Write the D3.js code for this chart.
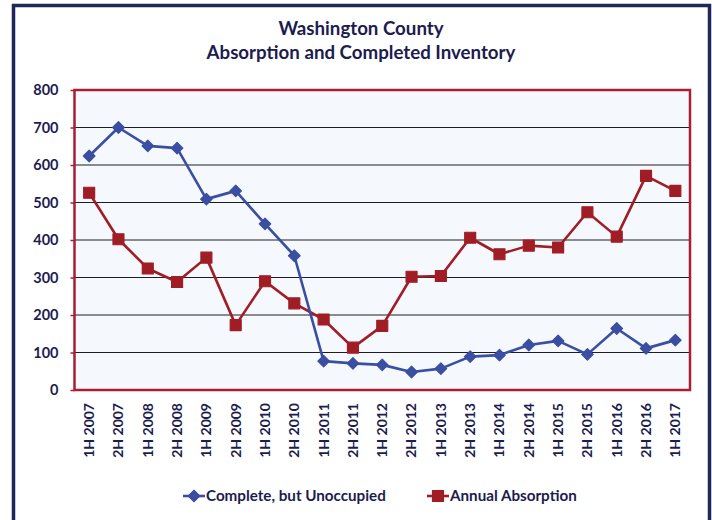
<!DOCTYPE html>
<html>
<head>
<meta charset="utf-8">
<script src="https://cdn.jsdelivr.net/npm/d3@7"></script>
<style>
  html, body { margin: 0; padding: 0; background: #ffffff; }
  svg { display: block; }
  text { font-family: Lato, "Open Sans", sans-serif; font-weight: 700; fill: #1c1c4f; }
</style>
</head>
<body>
<svg id="chart" width="712" height="520"></svg>
<script>
// Half-year periods on the x axis
const periods = [
  "1H 2007", "2H 2007", "1H 2008", "2H 2008", "1H 2009", "2H 2009", "1H 2010",
  "2H 2010", "1H 2011", "2H 2011", "1H 2012", "2H 2012", "1H 2013", "2H 2013",
  "1H 2014", "2H 2014", "1H 2015", "2H 2015", "1H 2016", "2H 2016", "1H 2017"
];

// Completed homes that are still unoccupied
const unoccupied = [624, 700, 651, 645, 509, 531, 443, 358, 77, 71, 67, 48, 57, 89, 93, 120, 131, 95, 164, 111, 133];

// Annual absorption
const absorption = [526, 402, 324, 288, 353, 173, 290, 231, 188, 113, 171, 302, 304, 406, 362, 385, 380, 474, 409, 571, 531];

const yTicks = [0, 100, 200, 300, 400, 500, 600, 700, 800];

const titleLines = ["Washington County", "Absorption and Completed Inventory"];
const seriesNames = ["Complete, but Unoccupied", "Annual Absorption"];

const blue = "#3a4ea2";
const red = "#a11d26";
const frameColor = "#1f2858";
const plotBorder = "#a81f35";

const svg = d3.select("#chart");

// Outer frame
svg.append("rect")
  .attr("x", 13.5).attr("y", 5.5)
  .attr("width", 696).attr("height", 540)
  .attr("fill", "#ffffff")
  .attr("stroke", frameColor)
  .attr("stroke-width", 3.5);

// Title
svg.append("g").selectAll("text")
  .data(titleLines)
  .join("text")
  .attr("x", 361)
  .attr("y", (d, i) => 35 + i * 24)
  .attr("text-anchor", "middle")
  .style("font-size", "18.7px")
  .text(d => d);

const plot = { left: 74.5, right: 690, top: 90, bottom: 390 };

const x = d3.scaleBand()
  .domain(periods)
  .range([plot.left, plot.right])
  .padding(0);

const y = d3.scaleLinear()
  .domain([0, 800])
  .range([plot.bottom, plot.top]);

const cx = d => x(d) + x.bandwidth() / 2;

// Plot background
svg.append("rect")
  .attr("x", plot.left).attr("y", plot.top)
  .attr("width", plot.right - plot.left)
  .attr("height", plot.bottom - plot.top)
  .attr("fill", "#f5f8fd");

// Gridlines
svg.append("g")
  .selectAll("line")
  .data(yTicks.filter(t => t > 0 && t < 800))
  .join("line")
  .attr("x1", plot.left).attr("x2", plot.right)
  .attr("y1", d => y(d)).attr("y2", d => y(d))
  .attr("stroke", "#1e1e1e")
  .attr("stroke-width", 1);

// Y axis
const yAxis = svg.append("g")
  .attr("transform", `translate(${plot.left},0)`)
  .call(d3.axisLeft(y).tickValues(yTicks).tickSize(4).tickPadding(12));
yAxis.select(".domain").remove();
yAxis.selectAll(".tick line").attr("stroke", plotBorder).attr("stroke-width", 1.5);
yAxis.selectAll(".tick text")
  .style("font-size", "14.5px")
  .style("font-family", "Lato, sans-serif")
  .style("font-weight", "700")
  .attr("fill", "#1c1c4f");

// X axis labels, rotated
const xAxis = svg.append("g")
  .attr("transform", `translate(0,${plot.bottom})`)
  .call(d3.axisBottom(x).tickSize(0).tickPadding(0));
xAxis.select(".domain").remove();
xAxis.selectAll(".tick text")
  .attr("transform", "rotate(-90)")
  .attr("x", -13)
  .attr("y", 0)
  .attr("dy", "0.35em")
  .attr("text-anchor", "end")
  .style("font-size", "14px")
  .style("font-family", "Lato, sans-serif")
  .style("font-weight", "700")
  .attr("fill", "#1c1c4f");

// Plot border
svg.append("rect")
  .attr("x", plot.left).attr("y", plot.top)
  .attr("width", plot.right - plot.left)
  .attr("height", plot.bottom - plot.top)
  .attr("fill", "none")
  .attr("stroke", plotBorder)
  .attr("stroke-width", 2.5);

const line = d3.line()
  .x(d => cx(d[0]))
  .y(d => y(d[1]));

const diamond = d3.symbol().type(d3.symbolDiamond2).size(85);
const square = d3.symbol().type(d3.symbolSquare).size(120);

function drawSeries(values, color, symbolGen) {
  const pts = periods.map((p, i) => [p, values[i]]);
  svg.append("path")
    .datum(pts)
    .attr("fill", "none")
    .attr("stroke", color)
    .attr("stroke-width", 2.6)
    .attr("stroke-linejoin", "round")
    .attr("d", line);
  svg.append("g")
    .selectAll("path")
    .data(pts)
    .join("path")
    .attr("transform", d => `translate(${cx(d[0])},${y(d[1])})`)
    .attr("d", symbolGen)
    .attr("fill", color)
    .attr("stroke", color)
    .attr("stroke-width", 1.2)
    .attr("stroke-linejoin", "round");
}

drawSeries(absorption, red, square);
drawSeries(unoccupied, blue, diamond);

// Legend
const legendItems = [
  { name: seriesNames[0], color: blue, sym: diamond, x: 183 },
  { name: seriesNames[1], color: red, sym: square, x: 427 }
];
const lg = svg.append("g").attr("transform", "translate(0,496)");
legendItems.forEach(it => {
  lg.append("line")
    .attr("x1", it.x).attr("x2", it.x + 22)
    .attr("y1", 0).attr("y2", 0)
    .attr("stroke", it.color).attr("stroke-width", 2.6);
  lg.append("path")
    .attr("transform", `translate(${it.x + 11},0)`)
    .attr("d", it.sym)
    .attr("fill", it.color)
    .attr("stroke", it.color)
    .attr("stroke-width", 1.2);
  lg.append("text")
    .attr("x", it.x + 23)
    .attr("y", 0)
    .attr("dy", "0.35em")
    .style("font-size", "15.2px")
    .text(it.name);
});
</script>
</body>
</html>
